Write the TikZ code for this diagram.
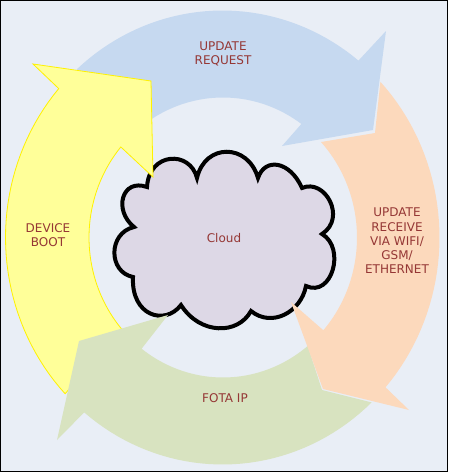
\documentclass[tikz,border=0pt]{standalone}
\usepackage{fontspec}
\setmainfont{DejaVu Sans}
\definecolor{pagebg}{HTML}{E9EEF6}
\definecolor{reqblue}{HTML}{C6D9F0}
\definecolor{recvorange}{HTML}{FCD9BC}
\definecolor{fotagreen}{HTML}{D8E3C0}
\definecolor{bootyellow}{HTML}{FFFF99}
\definecolor{cloudfill}{HTML}{DDD8E6}
\definecolor{labelred}{HTML}{953735}
\tikzset{
  steplabel/.style={align=center, text=labelred, inner sep=0pt, font=\fontsize{12}{14.3}\selectfont},
  cloudline/.style={draw=black, line width=4pt, fill=cloudfill, line join=miter, miter limit=4},
  ringarc/.style={domain=#1, samples=40, variable=\t}
}
\newcommand{\outerpt}{{222.5+217*cos(\t)},{237.5+227*sin(\t)}}
\newcommand{\innerpt}{{223+134*cos(\t)},{237.5+140*sin(\t)}}
\begin{document}
\begin{tikzpicture}[x=1pt, y=-1pt]
  \useasboundingbox (0,0) rectangle (448,472);
  % Page
  \fill[pagebg] (0,0) rectangle (448,472);

  % Cloud
  \draw[cloudline] (147,187)
    .. controls (149,152) and (190,150) .. (197,178)
    .. controls (205,143) and (248,143) .. (258,178)
    .. controls (265,157) and (290,161) .. (302,188)
    .. controls (325,178) and (347,218) .. (322,234)
    .. controls (346,248) and (332,298) .. (306,286)
    .. controls (301,312) and (272,328) .. (251,311)
    .. controls (238,335) and (200,335) .. (181,305)
    .. controls (165,326) and (131,316) .. (133,277)
    .. controls (108,272) and (108,233) .. (134,227)
    .. controls (113,210) and (122,178) .. (147,187) -- cycle;

  % Update request arrow (blue)
  \fill[reqblue] plot[ringarc=-132.2:-51.2] (\outerpt)
    -- (386,31) -- (373,130) -- (282,146)
    -- plot[ringarc=-54.2:-122.1] (\innerpt) -- cycle;

  % Device boot arrow (yellow), over the blue one
  \filldraw[fill=bootyellow, draw=yellow, line width=0.8pt] plot[ringarc=136.5:221] (\outerpt)
    -- (33,64) -- (151,81) -- (153,177)
    -- plot[ringarc=220.3:139.2] (\innerpt) -- cycle;

  % FOTA arrow (green), over the yellow one
  \fill[fotagreen] plot[ringarc=46.6:129.6] (\outerpt)
    -- (57,440) -- (79,341) -- (168,315)
    -- plot[ringarc=127.4:50.8] (\innerpt) -- (322,390) -- cycle;

  % Update receive arrow (orange), over the green one
  \fill[recvorange] plot[ringarc=-43.3:41.3] (\outerpt)
    -- (409,410) -- (323,389) -- (291,302)
    -- plot[ringarc=41.5:-43] (\innerpt) -- (375,133) -- cycle;

  % Labels
  \node[steplabel] (request) at (223,54) {UPDATE\\REQUEST};
  \node[steplabel] (receive) at (397,241) {UPDATE\\RECEIVE\\VIA WIFI/\\GSM/\\ETHERNET};
  \node[steplabel] (fota) at (225,398) {FOTA IP};
  \node[steplabel] (boot) at (48,235) {DEVICE\\BOOT};
  \node[steplabel] (cloud) at (224,238) {Cloud};

  % Frame
  \draw[black, line width=1pt] (0.5,0.5) rectangle (447.5,471.5);
\end{tikzpicture}
\end{document}
